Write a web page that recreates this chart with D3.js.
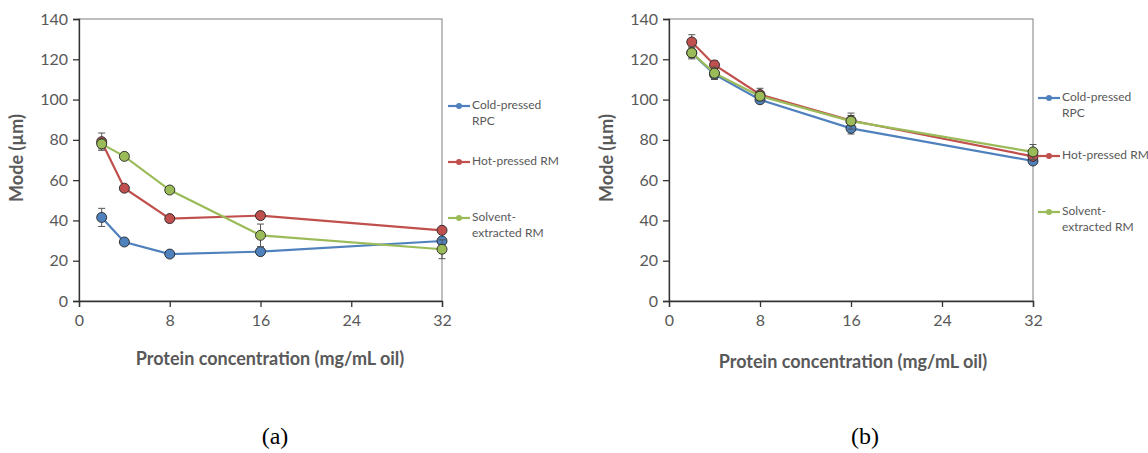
<!DOCTYPE html>
<html>
<head>
<meta charset="utf-8">
<script src="https://cdn.jsdelivr.net/npm/d3@7"></script>
<style>
  body { margin: 0; background: #fff; }
  svg { display: block; }
  text { font-family: Lato, "Open Sans", sans-serif; fill: #595959; }
</style>
</head>
<body>
<div id="chart"></div>
<script>
// Protein concentrations (mg/mL oil)
var conc = [2, 4, 8, 16, 32];
var seriesNames = ["Cold-pressed RPC", "Hot-pressed RM", "Solvent-extracted RM"];
var legendLines = [["Cold-pressed", "RPC"], ["Hot-pressed RM"], ["Solvent-", "extracted RM"]];
var colors = ["#4f81bd", "#c0504d", "#9bbb59"];
var yTicks = [0, 20, 40, 60, 80, 100, 120, 140];
var xTicks = [0, 8, 16, 24, 32];

// Panel (a): mode values and error (sd)
var aCold = [41.5, 29.3, 23.3, 24.5, 29.8];
var aHot = [79.1, 56.0, 40.9, 42.4, 35.1];
var aSolvent = [78.0, 71.8, 55.1, 32.6, 25.7];
var aColdErr = [4.5, 1.5, 1.0, 1.2, 1.2];
var aHotErr = [4.3, 1.2, 1.2, 1.5, 1.0];
var aSolventErr = [2.5, 1.0, 1.0, 5.6, 4.7];

// Panel (b)
var bCold = [123.2, 112.5, 99.9, 85.7, 69.5];
var bHot = [128.6, 117.2, 102.5, 89.6, 71.8];
var bSolvent = [123.2, 113.1, 101.7, 89.3, 74.0];
var bColdErr = [2.5, 2.5, 1.5, 2.8, 1.5];
var bHotErr = [3.6, 2.0, 3.1, 2.5, 1.5];
var bSolventErr = [3.0, 3.0, 2.0, 4.0, 3.7];

var width = 1148, height = 453;

var svg = d3.select("#chart").append("svg")
  .attr("width", width)
  .attr("height", height);

var panels = [
  {
    label: "(a)", x0: 79, x1: 442, y0: 19, y1: 301,
    values: [aCold, aHot, aSolvent], errs: [aColdErr, aHotErr, aSolventErr],
    legX: 448, legY: [106, 162, 218], titleX: 270, titleY: 360, labelX: 275
  },
  {
    label: "(b)", x0: 669, x1: 1033, y0: 19, y1: 301,
    values: [bCold, bHot, bSolvent], errs: [bColdErr, bHotErr, bSolventErr],
    legX: 1038, legY: [98, 156, 212], titleX: 853, titleY: 363, labelX: 865
  }
];

panels.forEach(function(p) {
  var g = svg.append("g");
  var x = d3.scaleLinear().domain([0, 32]).range([p.x0, p.x1]);
  var y = d3.scaleLinear().domain([0, 140]).range([p.y1, p.y0]);

  // plot area border
  g.append("rect")
    .attr("x", p.x0).attr("y", p.y0)
    .attr("width", p.x1 - p.x0).attr("height", p.y1 - p.y0)
    .attr("fill", "none").attr("stroke", "#7f7f7f").attr("stroke-width", 1);

  var yAxis = g.append("g")
    .attr("transform", "translate(" + p.x0 + ",0)")
    .call(d3.axisLeft(y).tickValues(yTicks).tickSize(6).tickPadding(5));
  var xAxis = g.append("g")
    .attr("transform", "translate(0," + p.y1 + ")")
    .call(d3.axisBottom(x).tickValues(xTicks).tickSize(6).tickPadding(8));

  [yAxis, xAxis].forEach(function(ax) {
    ax.select(".domain").attr("stroke", "#333").attr("stroke-width", 1.3);
    ax.selectAll(".tick line").attr("stroke", "#333").attr("stroke-width", 1.3);
    ax.selectAll(".tick text")
      .style("font-family", "Lato, sans-serif")
      .style("font-size", "16px")
      .attr("fill", "#595959");
  });

  // axis titles
  g.append("text")
    .attr("x", p.titleX).attr("y", p.titleY)
    .attr("text-anchor", "middle").attr("dominant-baseline", "middle")
    .style("font-size", "18px").style("font-weight", "bold")
    .text("Protein concentration (mg/mL oil)");
  g.append("text")
    .attr("transform", "translate(" + (p.x0 - 61) + "," + 158 + ") rotate(-90)")
    .attr("text-anchor", "middle").attr("dominant-baseline", "middle")
    .style("font-size", "18px").style("font-weight", "bold")
    .text("Mode (\u00b5m)");

  var line = d3.line()
    .x(function(d, i) { return x(conc[i]); })
    .y(function(d) { return y(d); });

  p.values.forEach(function(vals, s) {
    var sg = g.append("g");
    // error bars
    vals.forEach(function(v, i) {
      var e = p.errs[s][i], cx = x(conc[i]);
      sg.append("line")
        .attr("x1", cx).attr("x2", cx)
        .attr("y1", y(v - e)).attr("y2", y(v + e))
        .attr("stroke", "#555").attr("stroke-width", 1);
      [v - e, v + e].forEach(function(w) {
        sg.append("line")
          .attr("x1", cx - 3.5).attr("x2", cx + 3.5)
          .attr("y1", y(w)).attr("y2", y(w))
          .attr("stroke", "#555").attr("stroke-width", 1);
      });
    });
    sg.append("path")
      .attr("d", line(vals))
      .attr("fill", "none")
      .attr("stroke", colors[s])
      .attr("stroke-width", 2.2);
    sg.selectAll("circle")
      .data(vals)
      .enter().append("circle")
      .attr("cx", function(d, i) { return x(conc[i]); })
      .attr("cy", function(d) { return y(d); })
      .attr("r", 5)
      .attr("fill", colors[s])
      .attr("stroke", "#262626")
      .attr("stroke-width", 0.9);
  });

  // legend
  seriesNames.forEach(function(name, s) {
    var ly = p.legY[s];
    g.append("line")
      .attr("x1", p.legX).attr("x2", p.legX + 22)
      .attr("y1", ly).attr("y2", ly)
      .attr("stroke", colors[s]).attr("stroke-width", 2.2);
    g.append("circle")
      .attr("cx", p.legX + 11).attr("cy", ly).attr("r", 3)
      .attr("fill", colors[s]);
    legendLines[s].forEach(function(t, k) {
      g.append("text")
        .attr("x", p.legX + 24).attr("y", ly + k * 16)
        .attr("dominant-baseline", "middle")
        .style("font-size", "12px")
        .text(t);
    });
  });

  // panel label
  g.append("text")
    .attr("x", p.labelX).attr("y", 438)
    .attr("text-anchor", "middle").attr("dominant-baseline", "middle")
    .style("font-family", "'Liberation Serif', serif")
    .style("font-size", "24px")
    .style("fill", "#000")
    .text(p.label);
});
</script>
</body>
</html>
